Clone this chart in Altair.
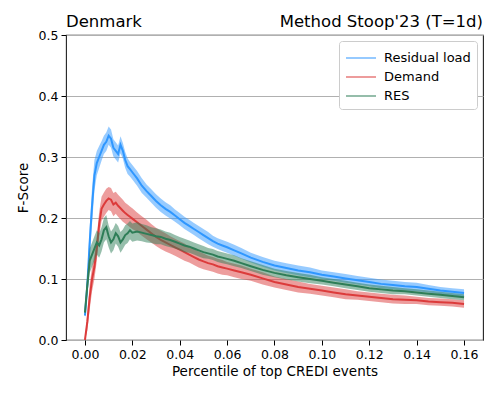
import altair as alt
import pandas as pd

# ---- data ----
x_vals = [0.000, 0.001, 0.002, 0.003, 0.004, 0.005, 0.006, 0.007, 0.008, 0.009, 0.010,
          0.011, 0.012, 0.013, 0.014, 0.015, 0.016, 0.017, 0.018, 0.019, 0.020,
          0.022, 0.024, 0.026, 0.028, 0.030, 0.032, 0.034, 0.036, 0.038, 0.040,
          0.042, 0.044, 0.046, 0.048, 0.050, 0.052, 0.054, 0.056, 0.058, 0.060,
          0.063, 0.066,
          0.070, 0.075, 0.080, 0.085, 0.090, 0.095, 0.100, 0.105, 0.110, 0.115,
          0.120, 0.125, 0.130, 0.135, 0.140, 0.145, 0.150, 0.155, 0.160]

residual = [0.04, 0.09, 0.16, 0.22, 0.27, 0.29, 0.30, 0.31, 0.32, 0.325, 0.335,
            0.33, 0.315, 0.31, 0.305, 0.32, 0.31, 0.295, 0.285, 0.28, 0.275,
            0.265, 0.253, 0.244, 0.236, 0.228, 0.221, 0.215, 0.21, 0.204, 0.198,
            0.192, 0.187, 0.182, 0.177, 0.172, 0.167, 0.162, 0.158, 0.155, 0.152,
            0.147, 0.142,
            0.135, 0.128, 0.122, 0.118, 0.114, 0.111, 0.107, 0.104, 0.101, 0.098,
            0.095, 0.092, 0.090, 0.088, 0.087, 0.084, 0.081, 0.079, 0.077]
residual_hw = [0.005, 0.015, 0.025, 0.03, 0.025, 0.02, 0.018, 0.016, 0.015, 0.015, 0.015,
               0.015, 0.014, 0.014, 0.014, 0.014, 0.013, 0.013, 0.013, 0.012, 0.012,
               0.012, 0.012, 0.011, 0.011, 0.011, 0.011, 0.011, 0.011, 0.01, 0.01,
               0.01, 0.01, 0.01, 0.01, 0.01, 0.01, 0.009, 0.009, 0.009, 0.009,
               0.009, 0.009,
               0.008, 0.008, 0.008, 0.008, 0.008, 0.008, 0.007, 0.007, 0.007, 0.007,
               0.007, 0.007, 0.007, 0.007, 0.007, 0.006, 0.006, 0.006, 0.006]

demand = [0.0, 0.03, 0.07, 0.10, 0.12, 0.15, 0.19, 0.215, 0.222, 0.228, 0.232,
          0.23, 0.222, 0.225, 0.22, 0.216, 0.212, 0.208, 0.205, 0.202, 0.199,
          0.193, 0.187, 0.181, 0.175, 0.169, 0.164, 0.16, 0.156, 0.152, 0.148,
          0.144, 0.14, 0.136, 0.132, 0.129, 0.126, 0.124, 0.121, 0.119, 0.117,
          0.114, 0.111,
          0.107, 0.101, 0.095, 0.091, 0.087, 0.084, 0.081, 0.078, 0.075, 0.073,
          0.071, 0.069, 0.067, 0.066, 0.065, 0.063, 0.062, 0.061, 0.059]
demand_hw = [0.0, 0.015, 0.02, 0.02, 0.02, 0.02, 0.02, 0.02, 0.02, 0.02, 0.019,
             0.019, 0.019, 0.018, 0.018, 0.018, 0.018, 0.017, 0.017, 0.017, 0.017,
             0.016, 0.016, 0.016, 0.015, 0.015, 0.015, 0.015, 0.014, 0.014, 0.014,
             0.014, 0.013, 0.013, 0.013, 0.013, 0.012, 0.012, 0.012, 0.012, 0.011,
             0.011, 0.011,
             0.01, 0.01, 0.009, 0.009, 0.009, 0.008, 0.008, 0.008, 0.008, 0.007,
             0.007, 0.007, 0.007, 0.007, 0.006, 0.006, 0.006, 0.006, 0.006]

res = [0.045, 0.09, 0.13, 0.14, 0.15, 0.16, 0.155, 0.165, 0.18, 0.185, 0.17,
       0.16, 0.165, 0.175, 0.17, 0.16, 0.165, 0.172, 0.175, 0.18, 0.176,
       0.178, 0.176, 0.174, 0.172, 0.17, 0.169, 0.166, 0.164, 0.161, 0.158,
       0.155, 0.153, 0.15, 0.147, 0.144, 0.142, 0.14, 0.137, 0.135, 0.133,
       0.13, 0.126,
       0.121, 0.115, 0.11, 0.106, 0.103, 0.1, 0.097, 0.094, 0.091, 0.088,
       0.085, 0.083, 0.081, 0.08, 0.078, 0.076, 0.074, 0.072, 0.07]
res_hw = [0.005, 0.015, 0.02, 0.02, 0.02, 0.02, 0.02, 0.02, 0.02, 0.02, 0.018,
          0.018, 0.018, 0.017, 0.017, 0.017, 0.016, 0.016, 0.016, 0.015, 0.015,
          0.015, 0.014, 0.014, 0.013, 0.013, 0.012, 0.012, 0.012, 0.011, 0.011,
          0.011, 0.01, 0.01, 0.01, 0.01, 0.009, 0.009, 0.009, 0.009, 0.009,
          0.009, 0.008,
          0.008, 0.008, 0.007, 0.007, 0.007, 0.007, 0.006, 0.006, 0.006, 0.006,
          0.006, 0.006, 0.006, 0.005, 0.005, 0.005, 0.005, 0.005, 0.005]

series_names = ["Residual load", "Demand", "RES"]
series_colors = ["#2f97ff", "#dc3b3b", "#2e7d57"]
x_ticks = [0.00, 0.02, 0.04, 0.06, 0.08, 0.10, 0.12, 0.14, 0.16]
y_ticks = [0.0, 0.1, 0.2, 0.3, 0.4, 0.5]
title_left = "Denmark"
title_right = "Method Stoop'23 (T=1d)"

FONT = "DejaVu Sans"

def frame(name, vals, hws):
    return pd.DataFrame({
        "x": x_vals,
        "y": vals,
        "lo": [v - h for v, h in zip(vals, hws)],
        "hi": [v + h for v, h in zip(vals, hws)],
        "series": name,
    })

frames = [frame(series_names[0], residual, residual_hw),
          frame(series_names[1], demand, demand_hw),
          frame(series_names[2], res, res_hw)]

xscale = alt.Scale(domain=[-0.008, 0.168], nice=False, zero=False)
yscale = alt.Scale(domain=[0, 0.5], nice=False)
cscale = alt.Scale(domain=series_names, range=series_colors)

x_axis = alt.Axis(values=x_ticks, format=".2f", title="Percentile of top CREDI events",
                  grid=False, tickSize=5, tickColor="black", domain=False,
                  labelFont=FONT, labelFontSize=12.5, labelColor="black", labelPadding=3,
                  titleFont=FONT, titleFontSize=13.5, titleFontWeight="normal",
                  titleColor="black", titlePadding=4)
y_axis = alt.Axis(values=y_ticks, format=".1f", title="F-Score",
                  grid=True, gridColor="#b0b0b0", gridWidth=1,
                  tickSize=5, tickColor="black", domain=False,
                  labelFont=FONT, labelFontSize=12.5, labelColor="black", labelPadding=3,
                  titleFont=FONT, titleFontSize=13.5, titleFontWeight="normal",
                  titleColor="black", titlePadding=8)

legend = alt.Legend(title=None, orient="top-right", offset=6,
                    symbolType="M-1.5,0L1.5,0", symbolStrokeWidth=2, symbolSize=400,
                    symbolOffset=5,
                    labelFont=FONT, labelFontSize=13, labelColor="black",
                    labelOffset=12, fillColor="white", strokeColor="#cccccc",
                    cornerRadius=3, padding=6, rowPadding=1)

X = alt.X("x:Q", scale=xscale, axis=x_axis)
C = alt.Color("series:N", scale=cscale, legend=legend)

layers = []
for i, df in enumerate(frames):
    base = alt.Chart(df)
    area = base.mark_area(opacity=0.5, clip=True).encode(
        x=X,
        y=alt.Y("lo:Q", scale=yscale, axis=y_axis),
        y2="hi:Q",
        color=C,
    )
    line = base.mark_line(strokeWidth=2, clip=True).encode(
        x=X,
        y=alt.Y("y:Q", scale=yscale, axis=y_axis),
        color=C,
    )
    layers += [area, line]

t_left = alt.Chart(pd.DataFrame({"t": [title_left]})).mark_text(
    font=FONT, fontSize=16.5, align="left", baseline="alphabetic", color="black"
).encode(x=alt.value(0), y=alt.value(-8), text="t:N")
t_right = alt.Chart(pd.DataFrame({"t": [title_right]})).mark_text(
    font=FONT, fontSize=16.5, align="right", baseline="alphabetic", color="black"
).encode(x=alt.value(417), y=alt.value(-8), text="t:N")

chart = alt.layer(*layers, t_left, t_right).properties(
    width=417, height=305,
    autosize=alt.AutoSizeParams(type="none"),
    padding={"left": 58, "top": 27, "right": 7, "bottom": 51},
).configure_view(stroke="#222222", strokeWidth=1.1)

chart.save("out.html", embed_options={"renderer": "svg", "actions": False})
